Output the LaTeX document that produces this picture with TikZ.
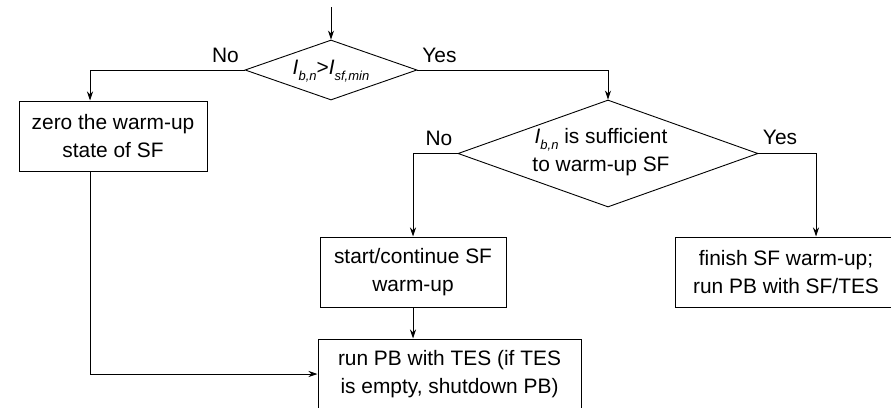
\documentclass[tikz,border=0pt]{standalone}
\usepackage{fontspec}
\setmainfont{Liberation Sans}
\usetikzlibrary{arrows.meta,shapes.geometric}
\newcommand{\sbs}[1]{\raisebox{-0.28em}{\fontsize{13}{13}\selectfont\itshape #1}}
\begin{document}
\begin{tikzpicture}[x=1pt,y=-1pt,
  every node/.style={font=\fontsize{20.9}{27.5}\selectfont},
  box/.style={draw,line width=1pt,inner sep=0pt,align=center,minimum height=70pt},
  dia/.style={draw,line width=0.9pt,diamond,inner sep=0pt},
  lbl/.style={inner sep=0pt},
  arr/.style={line width=1pt,-{Stealth[length=9pt,width=6pt]}},
  ln/.style={line width=1pt}]
\useasboundingbox (0,0) rectangle (891,407);
\clip (0,0) rectangle (891,407);
% decisions
\node[dia,minimum width=172pt,minimum height=60pt] (d1) at (331,70) {};
\node[lbl] (d1t) at (331,71) {\textit{I}\sbs{b,n}>\textit{I}\sbs{sf,min}};
\node[dia,minimum width=300pt,minimum height=107pt] (d2) at (608,153.5) {};
\node[lbl,align=center] (d2t) at (601,152) {\textit{I}\sbs{b,n} is sufficient\\to warm-up SF};
% boxes
\node[box,minimum width=188pt] (zero) at (113,136) {zero the warm-up\\state of SF};
\node[box,minimum width=186pt] (start) at (413,272) {start/continue SF\\warm-up};
\node[box,minimum width=263pt] (run) at (449.5,374) {run PB with TES (if TES\\is empty, shutdown PB)};
\node[box,minimum width=222pt] (fin) at (786,272) {finish SF warm-up;\\run PB with SF/TES};
% labels
\node[lbl] (no1) at (225.5,55) {No};
\node[lbl] (yes1) at (439.5,55) {Yes};
\node[lbl] (no2) at (439,138) {No};
\node[lbl] (yes2) at (780,137.5) {Yes};
% connectors
\coordinate (in) at (331,7);
\draw[arr] (in) -- (d1.north);
\draw[arr] (d1.west) -| ([xshift=-23pt]zero.north);
\draw[arr] ([xshift=-23pt]zero.south) |- (run.west);
\draw[arr] (d1.east) -| (d2.north);
\draw[arr] (d2.west) -| (start.north);
\draw[arr] (d2.east) -| ([xshift=30pt]fin.north);
\draw[arr] (start.south) -- (start.south |- run.north);
\end{tikzpicture}
\end{document}
